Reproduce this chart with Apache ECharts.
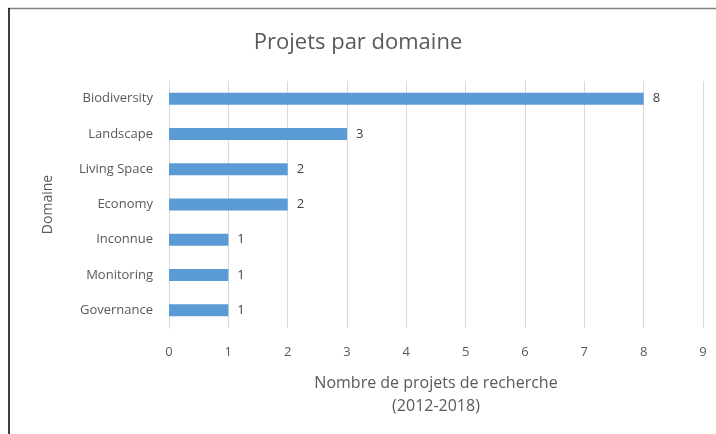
<!DOCTYPE html>
<html lang="fr">
<head>
    <meta charset="UTF-8">
    <title>Projets par domaine</title>
    <script src="https://cdn.jsdelivr.net/npm/echarts@6/dist/echarts.min.js"></script>
    <style>
        html, body { margin: 0; padding: 0; background: #fff; }
        #main { width: 716px; height: 434px; }
    </style>
</head>
<body>
<div id="main"></div>
<script type="text/javascript">
// données
var domaines = ['Governance', 'Monitoring', 'Inconnue', 'Economy', 'Living Space', 'Landscape', 'Biodiversity'];
var nbProjets = [1, 1, 1, 2, 2, 3, 8];
var axeX = { min: 0, max: 9, interval: 1 };

var police = '"Open Sans", "Noto Sans", sans-serif';
var gris = '#595959';

var myChart = echarts.init(document.getElementById('main'));
myChart.setOption({
    animation: false,
    textStyle: { fontFamily: police },
    title: {
        text: 'Projets par domaine',
        left: 'center',
        top: 27,
        textStyle: { fontSize: 22, fontWeight: 'normal', color: gris, fontFamily: police }
    },
    grid: { left: 169, right: 13, top: 81, bottom: 106 },
    xAxis: {
        type: 'value',
        min: axeX.min,
        max: axeX.max,
        interval: axeX.interval,
        axisLine: { show: false },
        axisTick: { show: false },
        axisLabel: { color: gris, fontSize: 13, margin: 18 },
        splitLine: { lineStyle: { color: '#d9d9d9', width: 1 } },
        name: 'Nombre de projets de recherche\n(2012-2018)',
        nameLocation: 'middle',
        nameGap: 44,
        nameTextStyle: { color: gris, fontSize: 16, lineHeight: 23 }
    },
    yAxis: {
        type: 'category',
        data: domaines,
        axisLine: { show: true, lineStyle: { color: '#d9d9d9' } },
        axisTick: { show: false },
        axisLabel: { color: gris, fontSize: 13, margin: 16 },
        name: 'Domaine',
        nameLocation: 'middle',
        nameGap: 114,
        nameRotate: 90,
        nameTextStyle: { color: gris, fontSize: 14 }
    },
    series: [{
        type: 'bar',
        data: nbProjets,
        barWidth: 12,
        itemStyle: { color: '#5b9bd5' },
        label: {
            show: true,
            position: 'right',
            distance: 9,
            color: '#404040',
            fontSize: 13
        }
    }],
    graphic: [
        { type: 'line', shape: { x1: 8, y1: 8.5, x2: 716, y2: 8.5 }, style: { stroke: '#808080', lineWidth: 1.5 } },
        { type: 'line', shape: { x1: 9, y1: 8, x2: 9, y2: 434 }, style: { stroke: '#000', lineWidth: 1.5 } }
    ]
});
</script>
</body>
</html>
